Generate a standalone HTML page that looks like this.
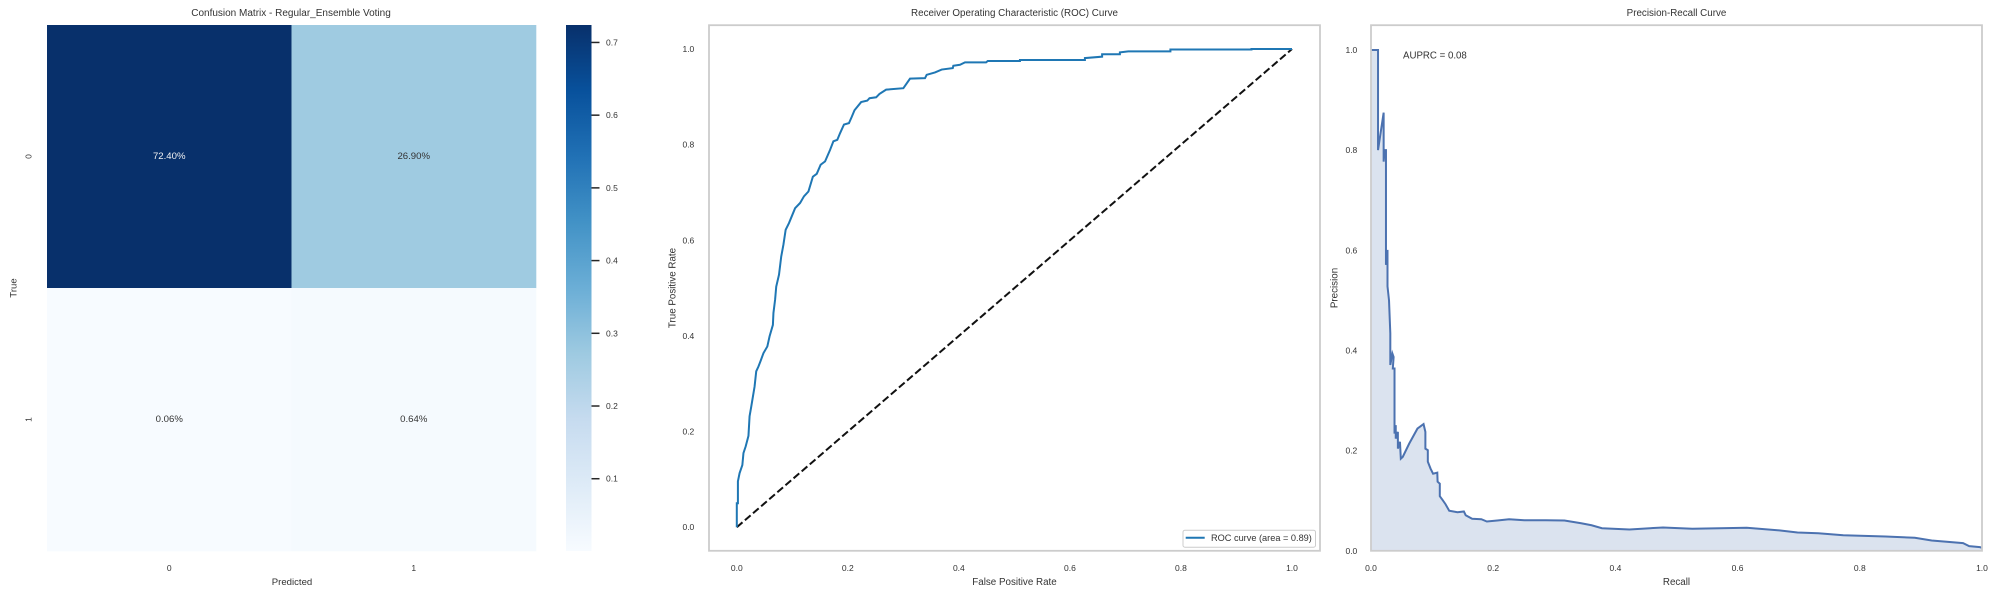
<!DOCTYPE html>
<html lang="en">
<head>
<meta charset="utf-8">
<title>Ensemble Voting Evaluation Charts</title>
<style>
html,body{margin:0;padding:0;background:#fff;width:1998px;height:598px;overflow:hidden}
svg{display:block}
text{font-family:"Liberation Sans",Arial,sans-serif;fill:#333333}
</style>
</head>
<body>
<svg id="figure" xmlns="http://www.w3.org/2000/svg" width="1998" height="598" viewBox="0 0 1998 598"></svg>
<script>
// Confusion matrix data
const cmXCategories = ['0', '1'];
const cmYCategories = ['0', '1'];
const cmValues = [[0.724, 0.269], [0.0006, 0.0064]];
const colorbarTicks = [0.1, 0.2, 0.3, 0.4, 0.5, 0.6, 0.7];
const bluesStops = ['#f7fbff', '#deebf7', '#c6dbef', '#9ecae1', '#6baed6', '#4292c6', '#2171b5', '#08519c', '#08306b'];

// ROC data
const rocFpr = [0,0,0.002,0.002,0.005,0.010,0.012,0.016,0.021,0.023,0.026,0.029,0.032,0.035,0.039,0.043,0.048,0.055,0.059,0.065,0.066,0.069,0.071,0.076,0.080,0.084,0.088,0.094,0.100,0.105,0.114,0.121,0.129,0.137,0.144,0.151,0.159,0.168,0.174,0.181,0.186,0.193,0.202,0.207,0.212,0.224,0.235,0.239,0.251,0.257,0.269,0.300,0.312,0.339,0.342,0.357,0.369,0.389,0.390,0.402,0.411,0.449,0.452,0.510,0.510,0.627,0.627,0.658,0.658,0.690,0.690,0.705,0.781,0.781,0.927,0.927,1.0];
const rocTpr = [0,0.05,0.05,0.096,0.113,0.130,0.155,0.169,0.191,0.232,0.252,0.273,0.294,0.326,0.336,0.348,0.364,0.378,0.399,0.423,0.448,0.476,0.503,0.528,0.566,0.591,0.622,0.636,0.653,0.667,0.678,0.692,0.702,0.733,0.739,0.758,0.765,0.789,0.807,0.810,0.824,0.842,0.845,0.858,0.872,0.889,0.892,0.897,0.899,0.906,0.915,0.918,0.938,0.939,0.946,0.951,0.957,0.960,0.965,0.967,0.972,0.972,0.975,0.975,0.977,0.977,0.981,0.984,0.989,0.989,0.993,0.995,0.995,0.999,0.999,1.0,1.0];
const diagonalX = [0, 1];
const diagonalY = [0, 1];
const rocTicks = [0, 0.2, 0.4, 0.6, 0.8, 1.0];

// Precision-recall data
const prRecall = [0,0.0115,0.0115,0.0207,0.0207,0.0223,0.0245,0.0245,0.027,0.027,0.0295,0.0316,0.0316,0.035,0.037,0.0357,0.0385,0.0385,0.0405,0.0405,0.044,0.044,0.0474,0.0488,0.052,0.0625,0.076,0.086,0.089,0.089,0.093,0.093,0.0975,0.1016,0.1085,0.109,0.1126,0.1126,0.1174,0.122,0.128,0.1415,0.152,0.155,0.1655,0.1806,0.1896,0.2067,0.226,0.251,0.286,0.3166,0.344,0.361,0.378,0.423,0.478,0.526,0.615,0.670,0.698,0.732,0.773,0.842,0.890,0.9176,0.969,0.979,0.9966,1.0];
const prPrecision = [1.0,1.0,0.800,0.875,0.777,0.800,0.800,0.571,0.601,0.528,0.500,0.434,0.371,0.394,0.387,0.364,0.364,0.234,0.251,0.224,0.2375,0.204,0.2176,0.184,0.1876,0.214,0.244,0.253,0.2375,0.204,0.201,0.178,0.164,0.154,0.156,0.138,0.134,0.109,0.101,0.093,0.080,0.077,0.0785,0.071,0.064,0.063,0.0585,0.0605,0.063,0.061,0.061,0.0605,0.055,0.051,0.045,0.0426,0.0466,0.044,0.046,0.0406,0.0366,0.035,0.031,0.0286,0.026,0.0206,0.0153,0.0093,0.0073,0.006];
const prTicks = [0, 0.2, 0.4, 0.6, 0.8, 1.0];

const svg = document.getElementById('figure');
const NS = 'http://www.w3.org/2000/svg';

function make(tag, attrs, parent) {
  const n = document.createElementNS(NS, tag);
  for (const k in attrs) n.setAttribute(k, attrs[k]);
  (parent || svg).appendChild(n);
  return n;
}
function label(str, x, y, size, anchor, rotate, parent, fill) {
  const attrs = { x: x, y: y, 'font-size': size, 'text-anchor': anchor, 'dominant-baseline': 'central' };
  if (rotate) attrs.transform = 'rotate(-90 ' + x + ' ' + y + ')';
  if (fill) attrs.style = 'fill:' + fill;
  const t = make('text', attrs, parent);
  t.textContent = str;
  return t;
}
function hexToRgb(h) {
  return [parseInt(h.slice(1, 3), 16), parseInt(h.slice(3, 5), 16), parseInt(h.slice(5, 7), 16)];
}
function blues(t) {
  const p = Math.max(0, Math.min(1, t)) * (bluesStops.length - 1);
  const i = Math.min(Math.floor(p), bluesStops.length - 2);
  const a = hexToRgb(bluesStops[i]), b = hexToRgb(bluesStops[i + 1]);
  const f = p - i;
  return 'rgb(' + a.map(function (v, k) { return Math.round(v + (b[k] - v) * f); }).join(',') + ')';
}
function linePath(xs, ys, sx, sy) {
  return xs.map(function (v, i) { return (i ? 'L' : 'M') + sx(v).toFixed(2) + ' ' + sy(ys[i]).toFixed(2); }).join('');
}

/* ---------- Confusion matrix ---------- */
const hm = { left: 47, right: 536, top: 25, bottom: 551 };
const flat = cmValues.reduce(function (a, r) { return a.concat(r); }, []);
const vMin = Math.min.apply(null, flat);
const vMax = Math.max.apply(null, flat);
const cellW = (hm.right - hm.left) / cmXCategories.length;
const cellH = (hm.bottom - hm.top) / cmYCategories.length;

const heatGroup = make('g', {});



cmValues.forEach(function (row, r) {
  row.forEach(function (v, c) {
    const t = (v - vMin) / (vMax - vMin);
    const cell = make('rect', { x: hm.left + c * cellW, y: hm.top + r * cellH, width: cellW + 0.3, height: cellH + 0.3, fill: blues(t) }, heatGroup);
    
    
    const txt = label((v * 100).toFixed(2) + '%', hm.left + (c + 0.5) * cellW, hm.top + (r + 0.5) * cellH, 9.6, 'middle', false, heatGroup, t > 0.5 ? '#f2f2f2' : '#333333');
    
    
  });
});
cmXCategories.forEach(function (s, i) {
  const t = label(s, hm.left + (i + 0.5) * cellW, 568, 8.5, 'middle');
  
  
});
cmYCategories.forEach(function (s, i) {
  const t = label(s, 28.5, hm.top + (i + 0.5) * cellH, 8.5, 'middle', true);
  
  
});
const hmTitle = label('Confusion Matrix - Regular_Ensemble Voting', 291, 13.7, 10, 'middle');


const hmX = label('Predicted', 292, 582.7, 9.6, 'middle');


const hmY = label('True', 14, 288, 9.6, 'middle', true);



/* Colorbar */
const cb = { left: 566, right: 591.5, top: 25, bottom: 551 };
const defs = make('defs', {});
const grad = make('linearGradient', { id: 'blues-gradient', x1: 0, y1: 1, x2: 0, y2: 0 }, defs);
bluesStops.forEach(function (c, i) {
  make('stop', { offset: i / (bluesStops.length - 1), 'stop-color': c }, grad);
});
const cbBar = make('rect', { x: cb.left, y: cb.top, width: cb.right - cb.left, height: cb.bottom - cb.top, fill: 'url(#blues-gradient)' });


function cbY(v) { return cb.bottom - (v - vMin) / (vMax - vMin) * (cb.bottom - cb.top); }
colorbarTicks.forEach(function (v) {
  const tick = make('line', { x1: cb.right, x2: cb.right + 8, y1: cbY(v), y2: cbY(v), stroke: '#262626', 'stroke-width': 1.5 });
  
  
  const t = label(v.toFixed(1), 606, cbY(v), 8.5, 'start');
  
  
});

/* ---------- ROC ---------- */
const rocBox = { left: 709, right: 1320, top: 25.2, bottom: 550.8 };
const rocX0 = 736.8, rocX1 = 1292, rocY0 = 527.2, rocY1 = 49;
function rocSx(v) { return rocX0 + v * (rocX1 - rocX0); }
function rocSy(v) { return rocY0 + v * (rocY1 - rocY0); }

const rocDiag = make('path', { d: linePath(diagonalX, diagonalY, rocSx, rocSy), fill: 'none', stroke: '#111', 'stroke-width': 2, 'stroke-dasharray': '7.5 3.2' });


const rocLine = make('path', { d: linePath(rocFpr, rocTpr, rocSx, rocSy), fill: 'none', stroke: '#1f77b4', 'stroke-width': 2, 'stroke-linejoin': 'miter' });


const rocFrame = make('rect', { x: rocBox.left, y: rocBox.top, width: rocBox.right - rocBox.left, height: rocBox.bottom - rocBox.top, fill: 'none', stroke: '#cccccc', 'stroke-width': 1.8 });


rocTicks.forEach(function (v) {
  const tx = label(v.toFixed(1), rocSx(v), 568, 8.5, 'middle');
  
  
  const ty = label(v.toFixed(1), 694.3, rocSy(v), 8.5, 'end');
  
  
});
const rocTitle = label('Receiver Operating Characteristic (ROC) Curve', 1014.5, 13.7, 9.8, 'middle');


const rocXT = label('False Positive Rate', 1014.5, 582.7, 9.8, 'middle');


const rocYT = label('True Positive Rate', 673, 288, 9.8, 'middle', true);



const legend = make('g', {});


const legendBox = make('rect', { x: 1183, y: 530.2, width: 132.5, height: 17, rx: 2, fill: '#fff', stroke: '#cccccc', 'stroke-width': 1 }, legend);


const legendLine = make('line', { x1: 1185.7, x2: 1204.7, y1: 537.8, y2: 537.8, stroke: '#1f77b4', 'stroke-width': 2 }, legend);


const legendText = label('ROC curve (area = 0.89)', 1211, 537.8, 9.2, 'start', false, legend);



/* ---------- Precision-Recall ---------- */
const prBox = { left: 1371, right: 1982, top: 25.2, bottom: 550.8 };
function prSx(v) { return prBox.left + v * (prBox.right - prBox.left); }
function prSy(v) { return prBox.bottom - v * 500.8; }

const prFill = make('path', {
  d: linePath(prRecall, prPrecision, prSx, prSy) + 'L' + prSx(prRecall[prRecall.length - 1]) + ' ' + prSy(0) + 'L' + prSx(prRecall[0]) + ' ' + prSy(0) + 'Z',
  fill: '#4c72b0', 'fill-opacity': 0.2, stroke: 'none'
});


const prLine = make('path', { d: linePath(prRecall, prPrecision, prSx, prSy), fill: 'none', stroke: '#4c72b0', 'stroke-width': 2 });


const prFrame = make('rect', { x: prBox.left, y: prBox.top, width: prBox.right - prBox.left, height: prBox.bottom - prBox.top, fill: 'none', stroke: '#cccccc', 'stroke-width': 1.8 });


prTicks.forEach(function (v) {
  const tx = label(v.toFixed(1), prSx(v), 568, 8.5, 'middle');
  
  
  const ty = label(v.toFixed(1), 1357.3, prSy(v), 8.5, 'end');
  
  
});
const prTitle = label('Precision-Recall Curve', 1676.5, 13.7, 9.8, 'middle');


const prXT = label('Recall', 1676.5, 582.7, 9.8, 'middle');


const prYT = label('Precision', 1335, 288, 9.8, 'middle', true);


const prNote = label('AUPRC = 0.08', 1403, 55.8, 9.7, 'start');


</script>
</body>
</html>
